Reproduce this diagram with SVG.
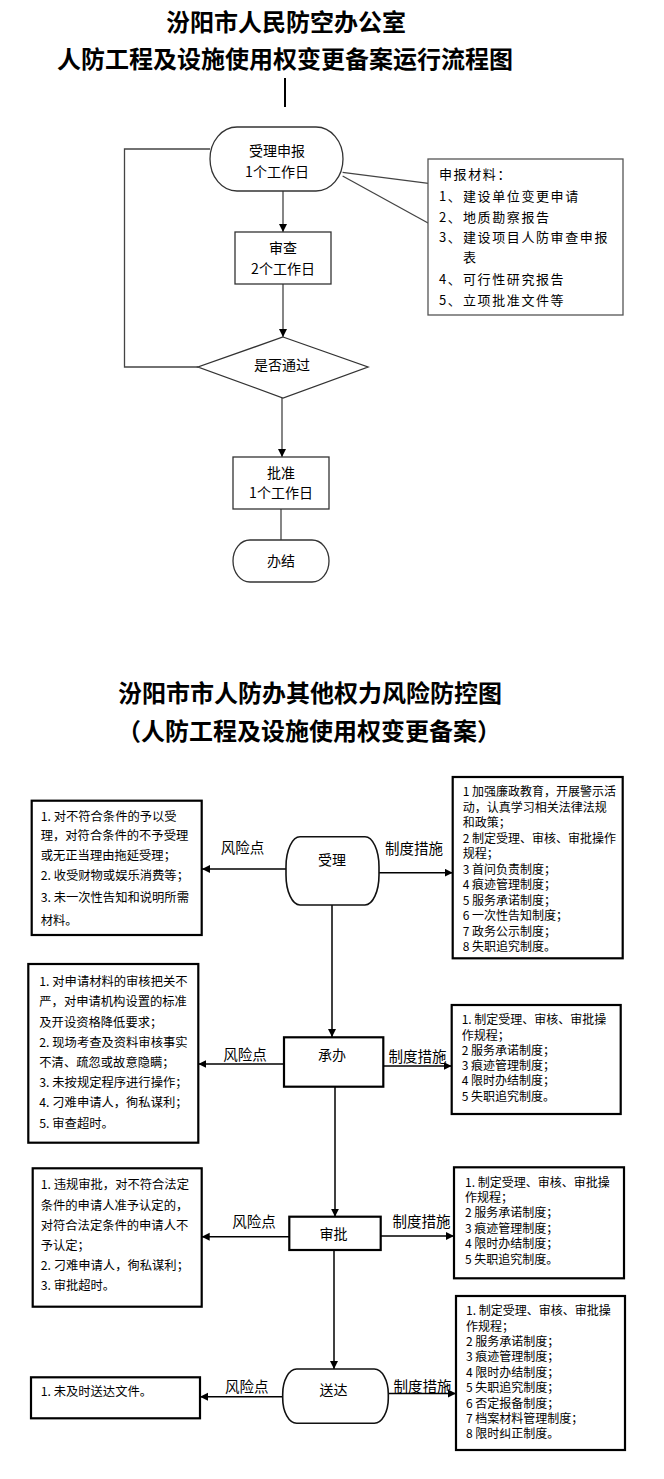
<svg xmlns="http://www.w3.org/2000/svg" width="664" height="1479" viewBox="0 0 664 1479">
<style>
text{font-family:"Noto Sans CJK SC","Liberation Sans",sans-serif;fill:#000}
.title{font-size:24px;font-weight:bold;text-anchor:middle}
.node{font-size:14px;text-anchor:middle}
.mat{font-size:13px;letter-spacing:1.6px}
.box{font-size:12.3px}
.rbox{font-size:12px}
.lbl{font-size:14.5px;text-anchor:middle}
.tshape{fill:#fff;stroke:#333;stroke-width:1.3}
.tline{fill:none;stroke:#444;stroke-width:1.3}
.bbox{fill:#fff;stroke:#000;stroke-width:2.2}
.bshape{fill:#fff;stroke:#111;stroke-width:1.6}
.bline{fill:none;stroke:#000;stroke-width:1.5}
</style>
<defs>
<marker id="ah" markerUnits="userSpaceOnUse" markerWidth="9" markerHeight="9" refX="8" refY="4" orient="auto">
<path d="M0,0 L8,4 L0,8 z" fill="#000"/>
</marker>
</defs>
<rect width="664" height="1479" fill="#fff"/>

<g id="titles">
<text class="title" x="286" y="31">汾阳市人民防空办公室</text>
<text class="title" x="285" y="68">人防工程及设施使用权变更备案运行流程图</text>
<text class="title" x="310" y="702">汾阳市市人防办其他权力风险防控图</text>
<text class="title" x="309" y="740">（人防工程及设施使用权变更备案）</text>
</g>

<g id="connectors">
<line x1="285" y1="78" x2="285" y2="107" stroke="#000" stroke-width="2"/>
<line class="tline" x1="283" y1="191" x2="283" y2="232" marker-end="url(#ah)"/>
<line class="tline" x1="283" y1="284" x2="283" y2="337" marker-end="url(#ah)"/>
<line class="tline" x1="282" y1="398" x2="282" y2="457" marker-end="url(#ah)"/>
<line class="tline" x1="281" y1="509" x2="281" y2="540"/>
<polyline class="tline" points="210,149 124.5,149 124.5,367 198,367"/>
<line class="tline" x1="342.6" y1="172.3" x2="428.5" y2="183.3"/>
<line class="tline" x1="342.6" y1="176" x2="428.5" y2="223.3"/>

<line class="bline" x1="287" y1="869" x2="202" y2="869" marker-end="url(#ah)"/>
<line class="bline" x1="379" y1="872.7" x2="452.7" y2="872.7" marker-end="url(#ah)"/>
<line class="bline" x1="332" y1="905" x2="332" y2="1037" marker-end="url(#ah)"/>
<line class="bline" x1="284" y1="1064" x2="198.3" y2="1064" marker-end="url(#ah)"/>
<line class="bline" x1="383.3" y1="1066" x2="451.7" y2="1066" marker-end="url(#ah)"/>
<line class="bline" x1="335" y1="1086.7" x2="335" y2="1216.7" marker-end="url(#ah)"/>
<line class="bline" x1="289.3" y1="1236.7" x2="201.7" y2="1236.7" marker-end="url(#ah)"/>
<line class="bline" x1="380.7" y1="1236" x2="454" y2="1236" marker-end="url(#ah)"/>
<line class="bline" x1="334" y1="1250" x2="334" y2="1369" marker-end="url(#ah)"/>
<line class="bline" x1="283.3" y1="1396.7" x2="200" y2="1396.7" marker-end="url(#ah)"/>
<line class="bline" x1="388.3" y1="1393.5" x2="456" y2="1393.5" marker-end="url(#ah)"/>
</g>

<g id="n-shouli-shenbao">
<rect class="tshape" x="210" y="127" width="133" height="64" rx="27" ry="32"/>
<text class="node" x="277" y="156">受理申报</text>
<text class="node" x="277" y="177">1个工作日</text>
</g>
<g id="n-shencha">
<rect class="tshape" x="235" y="232" width="96" height="52"/>
<text class="node" x="283" y="253">审查</text>
<text class="node" x="283" y="274">2个工作日</text>
</g>
<g id="n-pass">
<polygon class="tshape" points="283,337 368,367 283,398 198,367"/>
<text class="node" x="282" y="370">是否通过</text>
</g>
<g id="n-pizhun">
<rect class="tshape" x="233" y="457" width="96" height="52"/>
<text class="node" x="281" y="478">批准</text>
<text class="node" x="281" y="498">1个工作日</text>
</g>
<g id="n-banjie">
<rect class="tshape" x="233" y="540" width="96" height="42" rx="17" ry="21"/>
<text class="node" x="281" y="566">办结</text>
</g>
<g id="n-materials">
<rect x="428" y="159" width="195" height="156" fill="#fff" stroke="#555" stroke-width="1.3"/>
<text class="mat" x="439" y="179">申报材料：</text>
<text class="mat" x="439" y="201">1、</text><text class="mat" x="463" y="201">建设单位变更申请</text>
<text class="mat" x="439" y="222">2、</text><text class="mat" x="463" y="222">地质勘察报告</text>
<text class="mat" x="439" y="242">3、</text><text class="mat" x="463" y="242">建设项目人防审查申报</text>
<text class="mat" x="463" y="262">表</text>
<text class="mat" x="439" y="284">4、</text><text class="mat" x="463" y="284">可行性研究报告</text>
<text class="mat" x="439" y="305">5、</text><text class="mat" x="463" y="305">立项批准文件等</text>
</g>

<g id="n-shouli">
<rect class="bshape" x="286" y="836.7" width="93" height="68.3" rx="14" ry="30"/>
<text class="node" x="332" y="865">受理</text>
</g>
<g id="n-chengban">
<rect class="bbox" x="284" y="1037.3" width="99.3" height="49.4"/>
<text class="node" x="332" y="1060">承办</text>
</g>
<g id="n-shenpi">
<rect class="bbox" x="289.3" y="1216.7" width="91.4" height="33.3"/>
<text class="node" x="333.5" y="1239">审批</text>
</g>
<g id="n-songda">
<rect class="bshape" x="282.7" y="1369" width="105.6" height="54.3" rx="14" ry="25"/>
<text class="node" x="333.5" y="1395">送达</text>
</g>

<g id="labels">
<text class="lbl" x="242.5" y="853">风险点</text>
<text class="lbl" x="414" y="854">制度措施</text>
<text class="lbl" x="245" y="1060">风险点</text>
<text class="lbl" x="417.5" y="1062">制度措施</text>
<text class="lbl" x="254" y="1227">风险点</text>
<text class="lbl" x="421.5" y="1227">制度措施</text>
<text class="lbl" x="246.7" y="1392">风险点</text>
<text class="lbl" x="422.5" y="1392">制度措施</text>
</g>

<g id="risk-1">
<rect class="bbox" x="31.7" y="800.7" width="170" height="134.3"/>
<text class="box" x="40.7" y="821.4">1. 对不符合条件的予以受</text>
<text class="box" x="40.7" y="840.4">理，对符合条件的不予受理</text>
<text class="box" x="40.7" y="860.4">或无正当理由拖延受理；</text>
<text class="box" x="40.7" y="880.4">2. 收受财物或娱乐消费等；</text>
<text class="box" x="40.7" y="902.4">3. 未一次性告知和说明所需</text>
<text class="box" x="40.7" y="925.4">材料。</text>
</g>
<g id="measure-1">
<rect class="bbox" x="452.7" y="777" width="170" height="181.3"/>
<text class="rbox" x="462.7" y="796.1">1 加强廉政教育，开展警示活</text>
<text class="rbox" x="462.7" y="811.6">动，认真学习相关法律法规</text>
<text class="rbox" x="462.7" y="827.1">和政策；</text>
<text class="rbox" x="462.7" y="842.6">2 制定受理、审核、审批操作</text>
<text class="rbox" x="462.7" y="858.1">规程；</text>
<text class="rbox" x="462.7" y="873.6">3 首问负责制度；</text>
<text class="rbox" x="462.7" y="889.1">4 痕迹管理制度；</text>
<text class="rbox" x="462.7" y="904.6">5 服务承诺制度；</text>
<text class="rbox" x="462.7" y="920.1">6 一次性告知制度；</text>
<text class="rbox" x="462.7" y="935.6">7 政务公示制度；</text>
<text class="rbox" x="462.7" y="951.1">8 失职追究制度。</text>
</g>

<g id="risk-2">
<rect class="bbox" x="28.3" y="964" width="170" height="178.7"/>
<text class="box" x="39.3" y="986.1">1. 对申请材料的审核把关不</text>
<text class="box" x="39.3" y="1006.3">严，对申请机构设置的标准</text>
<text class="box" x="39.3" y="1026.5">及开设资格降低要求；</text>
<text class="box" x="39.3" y="1046.7">2. 现场考查及资料审核事实</text>
<text class="box" x="39.3" y="1066.9">不清、疏忽或故意隐瞒；</text>
<text class="box" x="39.3" y="1087.1">3. 未按规定程序进行操作；</text>
<text class="box" x="39.3" y="1107.3">4. 刁难申请人，徇私谋利；</text>
<text class="box" x="39.3" y="1127.5">5. 审查超时。</text>
</g>
<g id="measure-2">
<rect class="bbox" x="451.7" y="1005" width="169" height="109"/>
<text class="rbox" x="461.7" y="1024.2">1. 制定受理、审核、审批操</text>
<text class="rbox" x="461.7" y="1039.5">作规程；</text>
<text class="rbox" x="461.7" y="1054.8">2 服务承诺制度；</text>
<text class="rbox" x="461.7" y="1070.1">3 痕迹管理制度；</text>
<text class="rbox" x="461.7" y="1085.4">4 限时办结制度；</text>
<text class="rbox" x="461.7" y="1100.7">5 失职追究制度。</text>
</g>

<g id="risk-3">
<rect class="bbox" x="32.7" y="1168.3" width="169" height="138.4"/>
<text class="box" x="40.7" y="1189.4">1. 违规审批，对不符合法定</text>
<text class="box" x="40.7" y="1209.6">条件的申请人准予认定的，</text>
<text class="box" x="40.7" y="1229.8">对符合法定条件的申请人不</text>
<text class="box" x="40.7" y="1250">予认定；</text>
<text class="box" x="40.7" y="1270.2">2. 刁难申请人，徇私谋利；</text>
<text class="box" x="40.7" y="1290.4">3. 审批超时。</text>
</g>
<g id="measure-3">
<rect class="bbox" x="454" y="1167.3" width="170" height="111"/>
<text class="rbox" x="465" y="1186.6">1. 制定受理、审核、审批操</text>
<text class="rbox" x="465" y="1202">作规程；</text>
<text class="rbox" x="465" y="1217.4">2 服务承诺制度；</text>
<text class="rbox" x="465" y="1232.8">3 痕迹管理制度；</text>
<text class="rbox" x="465" y="1248.2">4 限时办结制度；</text>
<text class="rbox" x="465" y="1263.6">5 失职追究制度。</text>
</g>

<g id="risk-4">
<rect class="bbox" x="31" y="1377.3" width="169" height="41"/>
<text class="box" x="40.7" y="1396.1">1. 未及时送达文件。</text>
</g>
<g id="measure-4">
<rect class="bbox" x="456" y="1296" width="169" height="154"/>
<text class="rbox" x="466" y="1315.1">1. 制定受理、审核、审批操</text>
<text class="rbox" x="466" y="1330.5">作规程；</text>
<text class="rbox" x="466" y="1345.9">2 服务承诺制度；</text>
<text class="rbox" x="466" y="1361.3">3 痕迹管理制度；</text>
<text class="rbox" x="466" y="1376.7">4 限时办结制度；</text>
<text class="rbox" x="466" y="1392.1">5 失职追究制度；</text>
<text class="rbox" x="466" y="1407.5">6 否定报备制度；</text>
<text class="rbox" x="466" y="1422.9">7 档案材料管理制度；</text>
<text class="rbox" x="466" y="1438.3">8 限时纠正制度。</text>
</g>
</svg>
